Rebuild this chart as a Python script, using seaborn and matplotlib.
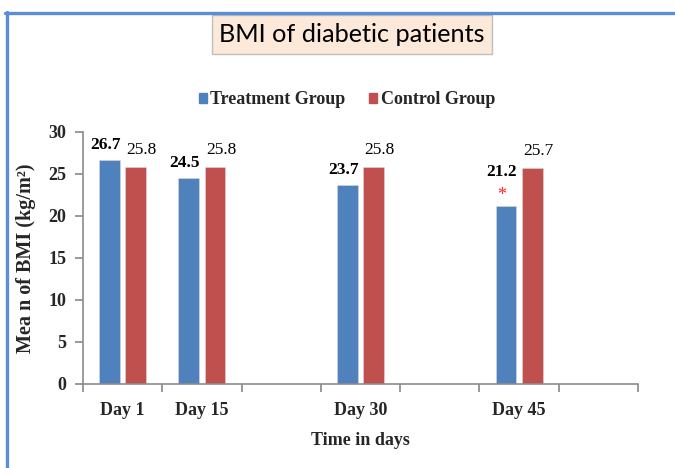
import matplotlib
matplotlib.use("Agg")
import matplotlib.pyplot as plt
from matplotlib.lines import Line2D
from matplotlib.patches import Rectangle
from matplotlib.ticker import FixedLocator
import seaborn as sns
import pandas as pd

# ---- data ----
categories = ["Day 1", "Day 15", "gap1", "Day 30", "gap2", "Day 45", "gap3"]
tick_labels = ["Day 1", "Day 15", "", "Day 30", "", "Day 45", ""]
days = ["Day 1", "Day 15", "Day 30", "Day 45"]
treatment = [26.7, 24.5, 23.7, 21.2]
control = [25.8, 25.8, 25.8, 25.7]
treatment_marks = ["", "", "", "*"]
groups = ["Treatment Group", "Control Group"]
colors = ["#4F81BD", "#C0504D"]
yticks = [0, 5, 10, 15, 20, 25, 30]

df = pd.DataFrame({
    "day": days * 2,
    "group": [groups[0]] * len(days) + [groups[1]] * len(days),
    "bmi": treatment + control,
})

sns.set_theme(style="white")
plt.rcParams["font.family"] = ["Liberation Serif", "DejaVu Serif"]

W, H = 675, 468
fig = plt.figure(figsize=(W / 100, H / 100), dpi=100)
ax = fig.add_axes([83 / W, 1 - 384 / H, (638 - 83) / W, (384 - 132) / H])

sns.barplot(data=df, x="day", y="bmi", hue="group", order=categories,
            hue_order=groups, palette=colors, width=0.66, gap=0.2,
            errorbar=None, legend=False, ax=ax, saturation=1,
            edgecolor="#D9D9D9", linewidth=0.4)

ax.set_xlim(-0.5, len(categories) - 0.5)
ax.set_ylim(0, 30)
ax.set_yticks(yticks)
ax.set_yticklabels([str(v) for v in yticks], fontweight="bold", fontsize=13)

# category boundary ticks, labels at centres
ax.xaxis.set_major_locator(FixedLocator([i - 0.5 for i in range(len(categories) + 1)]))
ax.xaxis.set_minor_locator(FixedLocator(list(range(len(categories)))))
ax.set_xticklabels([""] * (len(categories) + 1))
ax.set_xticklabels(tick_labels, minor=True, fontweight="bold", fontsize=13)
ax.tick_params(axis="x", which="major", length=6, color="#8C8C8C", direction="out", bottom=True)
ax.tick_params(axis="x", which="minor", length=0, pad=13, bottom=True)
ax.tick_params(axis="y", length=6, color="#8C8C8C", direction="out", left=True, pad=6)

for s in ["top", "right"]:
    ax.spines[s].set_visible(False)
for s in ["left", "bottom"]:
    ax.spines[s].set_color("#8C8C8C")
    ax.spines[s].set_linewidth(1.2)

ax.set_xlabel("Time in days", fontweight="bold", fontsize=13, labelpad=9)
ax.set_ylabel("Mea n of BMI (kg/m²)", fontweight="bold", fontsize=14.5, labelpad=9)

# value labels
t_bars, c_bars = ax.containers[0], ax.containers[1]
for bar, v, m in zip(t_bars, treatment, treatment_marks):
    x = bar.get_x() + bar.get_width() / 2
    dy = 30 if m else 11
    ax.annotate(f"{v}", (x, bar.get_height()), xytext=(-4, dy), textcoords="offset pixels",
                ha="center", va="baseline", fontsize=12.5, fontweight="bold", color="black")
    if m:
        ax.annotate(m, (x, bar.get_height()), xytext=(-4, 2), textcoords="offset pixels",
                    ha="center", va="bottom", fontsize=13, color="#FF2020")
for bar, v in zip(c_bars, control):
    x = bar.get_x() + bar.get_width() / 2
    ax.annotate(f"{v}", (x, bar.get_height()), xytext=(6, 13), textcoords="offset pixels",
                ha="center", va="baseline", fontsize=12.5, color="black")

# legend
handles = [plt.Rectangle((0, 0), 1, 1, color=c) for c in colors]
fig.legend(handles, groups, loc="center", bbox_to_anchor=(347 / W, 1 - 100 / H),
           ncol=2, frameon=False, handlelength=0.45, handleheight=0.45,
           handletextpad=0.2, columnspacing=1.3,
           prop={"weight": "bold", "size": 13, "family": "Liberation Serif"})

# title box
fig.add_artist(Rectangle((212 / W, 1 - 54 / H), (492 - 212) / W, (54 - 15) / H,
                         transform=fig.transFigure, facecolor="#FDE9D9",
                         edgecolor="#BFBFBF", linewidth=1))
fig.text(352 / W, 1 - 35 / H, "BMI of diabetic patients", ha="center", va="center",
         fontsize=18.2, family=["Lato", "DejaVu Sans"], color="black")

# outer frame lines (top and left)
fig.add_artist(Line2D([5 / W, 1], [1 - 13 / H, 1 - 13 / H], transform=fig.transFigure,
                      color="#5B8ED6", linewidth=2.4))
fig.add_artist(Line2D([7 / W, 7 / W], [0, 1 - 12 / H], transform=fig.transFigure,
                      color="#5B8ED6", linewidth=2.4))

fig.savefig("out.png", dpi=100)
